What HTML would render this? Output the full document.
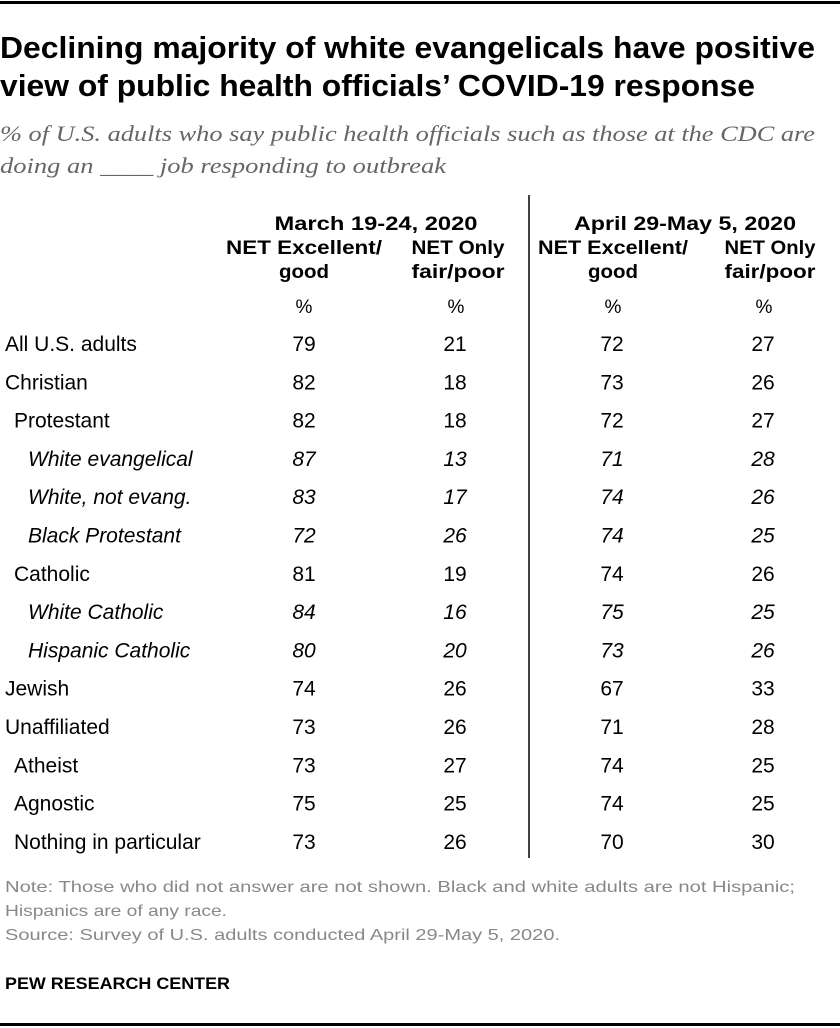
<!DOCTYPE html>
<html><head><meta charset="utf-8"><style>
html,body{margin:0;padding:0;background:#fff;}
svg{display:block;}
</style></head><body>
<svg id="chart" width="840" height="1028" viewBox="0 0 840 1028" xmlns="http://www.w3.org/2000/svg" font-family="'Liberation Sans', sans-serif">
  <rect x="0" y="1" width="840" height="3" fill="#000"/>
  <text x="0" y="58" font-size="31" font-weight="bold" fill="#000" textLength="815" lengthAdjust="spacingAndGlyphs">Declining majority of white evangelicals have positive</text>
  <text x="0" y="96" font-size="31" font-weight="bold" fill="#000" textLength="755" lengthAdjust="spacingAndGlyphs">view of public health officials’ COVID-19 response</text>
  <text x="0" y="141" font-size="22" font-style="italic" font-family="'Liberation Serif', serif" fill="#666" textLength="815" lengthAdjust="spacingAndGlyphs">% of U.S. adults who say public health officials such as those at the CDC are</text>
  <text x="0" y="173" font-size="22" font-style="italic" font-family="'Liberation Serif', serif" fill="#666" textLength="446" lengthAdjust="spacingAndGlyphs">doing an ____ job responding to outbreak</text>

  <line x1="529" y1="195" x2="529" y2="858" stroke="#000" stroke-width="1.5"/>

  <g font-weight="bold" font-size="19" fill="#000" text-anchor="middle">
    <text x="376" y="230" textLength="203" lengthAdjust="spacingAndGlyphs">March 19-24, 2020</text>
    <text x="685" y="230" textLength="222" lengthAdjust="spacingAndGlyphs">April 29-May 5, 2020</text>
    <text x="304" y="254" textLength="156" lengthAdjust="spacingAndGlyphs">NET Excellent/</text>
    <text x="304" y="278" textLength="50" lengthAdjust="spacingAndGlyphs">good</text>
    <text x="458" y="254" textLength="93" lengthAdjust="spacingAndGlyphs">NET Only</text>
    <text x="458" y="278" textLength="93" lengthAdjust="spacingAndGlyphs">fair/poor</text>
    <text x="613" y="254" textLength="150" lengthAdjust="spacingAndGlyphs">NET Excellent/</text>
    <text x="613" y="278" textLength="50" lengthAdjust="spacingAndGlyphs">good</text>
    <text x="770" y="254" textLength="91" lengthAdjust="spacingAndGlyphs">NET Only</text>
    <text x="770" y="278" textLength="91" lengthAdjust="spacingAndGlyphs">fair/poor</text>
  </g>
  <g font-size="19" fill="#000" text-anchor="middle">
    <text x="304" y="313">%</text>
    <text x="456" y="313">%</text>
    <text x="613" y="313">%</text>
    <text x="764" y="313">%</text>
  </g>
  <g id="rows"></g>

  <g font-size="16" fill="#888">
    <text x="5" y="892" textLength="790" lengthAdjust="spacingAndGlyphs">Note: Those who did not answer are not shown. Black and white adults are not Hispanic;</text>
    <text x="5" y="916" textLength="222" lengthAdjust="spacingAndGlyphs">Hispanics are of any race.</text>
    <text x="5" y="940" textLength="555" lengthAdjust="spacingAndGlyphs">Source: Survey of U.S. adults conducted April 29-May 5, 2020.</text>
  </g>
  <text x="5" y="989" font-size="17" font-weight="bold" fill="#000" textLength="225" lengthAdjust="spacingAndGlyphs">PEW RESEARCH CENTER</text>
  <rect x="0" y="1023" width="840" height="3" fill="#000"/>
</svg>
<script>
const labels = ["All U.S. adults","Christian","Protestant","White evangelical","White, not evang.","Black Protestant","Catholic","White Catholic","Hispanic Catholic","Jewish","Unaffiliated","Atheist","Agnostic","Nothing in particular"];
const levels = [0,0,1,2,2,2,1,2,2,0,0,1,1,1];
const marchGood = [79,82,82,87,83,72,81,84,80,74,73,73,75,73];
const marchPoor = [21,18,18,13,17,26,19,16,20,26,26,27,25,26];
const aprilGood = [72,73,72,71,74,74,74,75,73,67,71,74,74,70];
const aprilPoor = [27,26,27,28,26,25,26,25,26,33,28,25,25,30];

const NS = "http://www.w3.org/2000/svg";
const g = document.getElementById('rows');
const rowY = i => 351 + i * 38.3;
const indentX = l => [5, 14, 28][l];
const colX = [304, 455, 612, 763];
const series = [marchGood, marchPoor, aprilGood, aprilPoor];
const colNames = ['march-good', 'march-poor', 'april-good', 'april-poor'];

labels.forEach((lab, i) => {
  const italic = levels[i] === 2;
  const t = document.createElementNS(NS, 'text');
  t.setAttribute('x', indentX(levels[i]));
  t.setAttribute('y', rowY(i));
  t.setAttribute('font-size', '21');
  if (italic) t.setAttribute('font-style', 'italic');
  t.textContent = lab;
  
  
  g.appendChild(t);
  series.forEach((s, c) => {
    const v = document.createElementNS(NS, 'text');
    v.setAttribute('x', colX[c]);
    v.setAttribute('y', rowY(i));
    v.setAttribute('font-size', '21');
    v.setAttribute('text-anchor', 'middle');
    if (italic) v.setAttribute('font-style', 'italic');
    v.textContent = s[i];
    
    
    g.appendChild(v);
  });
});
</script>
</body></html>
